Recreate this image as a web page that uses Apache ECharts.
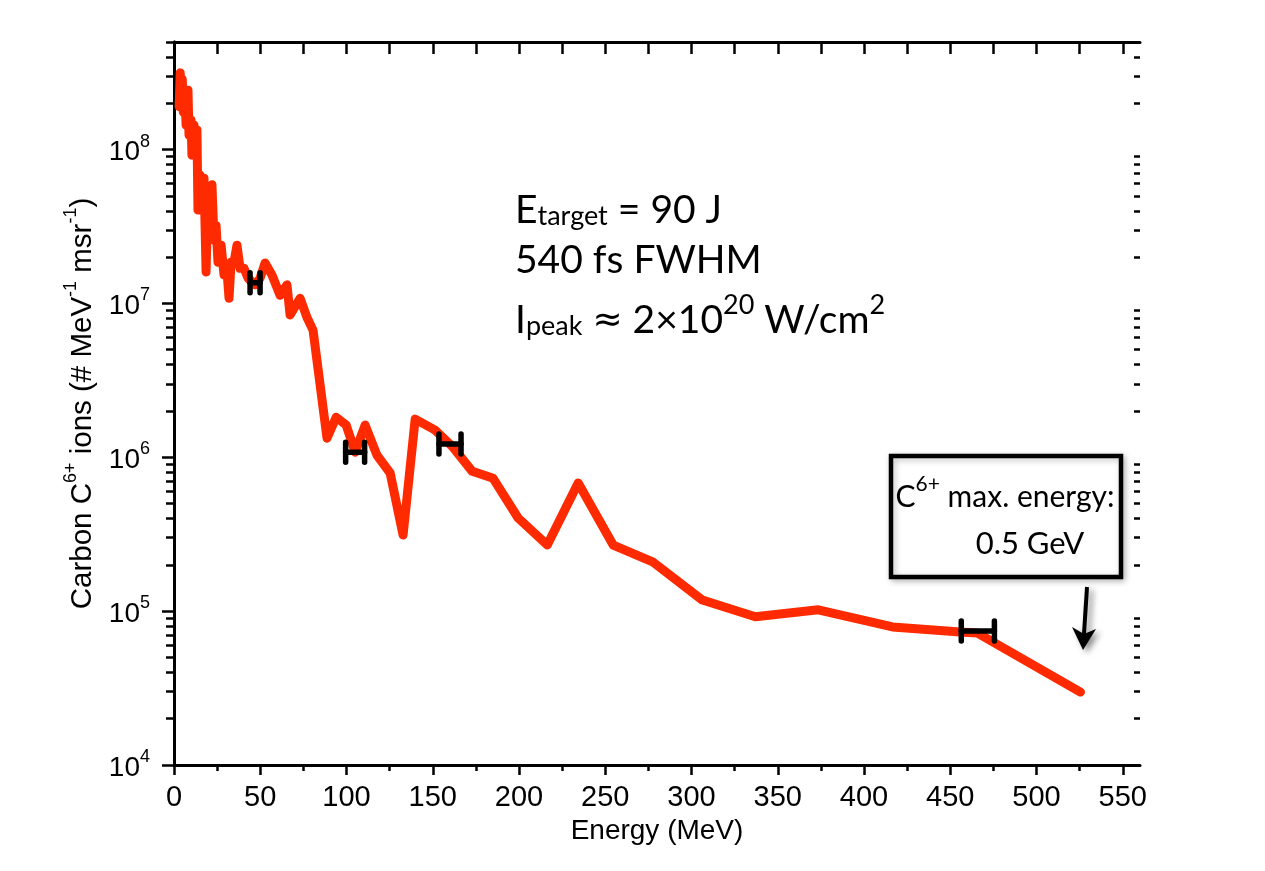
<!DOCTYPE html>
<html><head><meta charset="utf-8">
<script src="https://cdn.jsdelivr.net/npm/echarts@6/dist/echarts.min.js"></script>
<style>html,body{margin:0;padding:0;background:#fff}#c{width:1265px;height:871px}</style>
</head><body><div id="c"></div>
<script>
// ---- data ----
const energy = [3.0, 3.6, 4.2, 4.8, 5.4, 6.4, 7.0, 8.1, 8.7, 9.9, 10.4, 11.6, 12.8, 13.3, 13.9, 15.1, 16.2, 17.4, 18.6, 19.7, 20.9, 22.0, 23.2, 24.4, 25.5, 27.3, 29.0, 30.7, 31.9, 33.1, 34.8, 36.5, 38.3, 40.6, 42.9, 47.0, 49.9, 52.8, 56.8, 61.5, 65.5, 67.3, 73.1, 77.1, 80.6, 88.7, 94.0, 99.8, 105.0, 110.8, 117.7, 125.3, 132.8, 139.8, 151.4, 161.8, 172.9, 185.0, 199.5, 216.4, 234.3, 254.6, 277.8, 306.3, 337.0, 373.5, 416.5, 457.7, 465.8, 525.5];
const ions = [1.9e8, 3.15e8, 2.0e8, 2.85e8, 1.75e8, 2.26e8, 1.44e8, 2.43e8, 1.24e8, 1.55e8, 9.2e7, 1.44e8, 1.15e8, 1.34e8, 4.04e7, 6.8e7, 4.35e7, 6.5e7, 1.6e7, 5.4e7, 3.75e7, 5.9e7, 2.58e7, 3.2e7, 1.85e7, 2.39e7, 1.53e7, 1.64e7, 1.08e7, 1.85e7, 1.85e7, 2.39e7, 1.69e7, 1.69e7, 1.46e7, 1.32e7, 1.46e7, 1.83e7, 1.53e7, 1.13e7, 1.32e7, 8.4e6, 1.08e7, 8.1e6, 6.7e6, 1.33e6, 1.82e6, 1.62e6, 1.08e6, 1.62e6, 1.03e6, 7.9e5, 3.12e5, 1.77e6, 1.5e6, 1.16e6, 8.1e5, 7.3e5, 4.03e5, 2.69e5, 6.8e5, 2.69e5, 2.08e5, 1.18e5, 9.2e4, 1.02e5, 7.9e4, 7.3e4, 7.2e4, 2.98e4];
const errCenter = [47, 105, 160, 466];
const errHalfWidth = [2.9, 5.5, 6.4, 9.6];
const errValue = [1.36e7, 1.08e6, 1.22e6, 7.42e4];
const xMajorTicks = [0, 50, 100, 150, 200, 250, 300, 350, 400, 450, 500, 550];
const xMinorTicks = [25, 75, 125, 175, 225, 275, 325, 375, 425, 475, 525];
const yMajorTicks = [1e4, 1e5, 1e6, 1e7, 1e8];
const yMinorTicks = [];
[1e4, 1e5, 1e6, 1e7, 1e8].forEach(d => { for (let k = 2; k <= 9; k++) { if (k * d <= 5e8) yMinorTicks.push(k * d); } });
const xAllTicks = xMajorTicks.concat(xMinorTicks).sort((a, b) => a - b);

// ---- chart ----
const chart = echarts.init(document.getElementById('c'), null, {renderer: 'canvas'});
const AX = '#000';
const labelFont = 'Liberation Sans';
const narrowFont = "'Liberation Sans Narrow', 'Arial Narrow', 'Liberation Sans'";
const annFont = 'Lato';
const xBase = {type: 'value', min: 0, max: 560, splitLine: {show: false}, gridIndex: 0};
const yBase = {type: 'log', logBase: 10, min: 1e4, max: 5e8, splitLine: {show: false}, gridIndex: 0};

const option = {
  backgroundColor: '#fff',
  animation: false,
  grid: {left: 174, right: 125, top: 42, bottom: 106},
  xAxis: [
    Object.assign({}, xBase, {
      position: 'bottom',
      axisLine: {show: true, lineStyle: {color: AX, width: 3}},
      axisTick: {show: true, inside: false, length: 10, lineStyle: {color: AX, width: 2.5}, customValues: xMajorTicks},
      axisLabel: {show: true, margin: 18, color: '#000', fontSize: 29, fontFamily: narrowFont, customValues: xMajorTicks},
      name: 'Energy (MeV)', nameLocation: 'middle', nameGap: 49,
      nameTextStyle: {color: '#000', fontSize: 28, fontFamily: labelFont}
    }),
    Object.assign({}, xBase, {
      position: 'top',
      axisLine: {show: true, lineStyle: {color: AX, width: 3}},
      axisTick: {show: true, inside: true, length: 12, lineStyle: {color: AX, width: 2.5}, customValues: xAllTicks},
      axisLabel: {show: false}
    }),
    Object.assign({}, xBase, {
      position: 'bottom',
      axisLine: {show: false},
      axisTick: {show: true, inside: false, length: 6, lineStyle: {color: AX, width: 2.5}, customValues: xMinorTicks},
      axisLabel: {show: false}
    })
  ],
  yAxis: [
    Object.assign({}, yBase, {
      position: 'left',
      axisLine: {show: true, lineStyle: {color: AX, width: 3}},
      axisTick: {show: true, inside: false, length: 12, lineStyle: {color: AX, width: 2.5}, customValues: yMajorTicks},
      axisLabel: {
        show: true, margin: 24, color: '#000', fontFamily: labelFont, customValues: yMajorTicks,
        formatter: v => '{b|10}{sup|' + Math.round(Math.log10(v)) + '}',
        rich: {
          b: {fontSize: 28, lineHeight: 34, verticalAlign: 'bottom', fontFamily: labelFont, color: '#000'},
          sup: {fontSize: 18, lineHeight: 18, verticalAlign: 'top', fontFamily: labelFont, color: '#000'}
        }
      },
      name: '{b|Carbon C}{sup|6+}{b| ions (# MeV}{sup|-1}{b| msr}{sup|-1}{b|)}',
      nameLocation: 'middle', nameGap: 66,
      nameTextStyle: {
        color: '#000', fontFamily: labelFont, fontSize: 29,
        rich: {
          b: {fontSize: 29.5, lineHeight: 36, verticalAlign: 'bottom', fontFamily: labelFont, color: '#000'},
          sup: {fontSize: 18, lineHeight: 18, verticalAlign: 'top', fontFamily: labelFont, color: '#000'}
        }
      }
    }),
    Object.assign({}, yBase, {
      position: 'right',
      axisLine: {show: true, lineStyle: {color: AX, width: 3}},
      axisTick: {show: true, inside: true, length: 10, lineStyle: {color: AX, width: 2.5}, customValues: yMajorTicks},
      axisLabel: {show: false}
    }),
    Object.assign({}, yBase, {
      position: 'left',
      axisLine: {show: false},
      axisTick: {show: true, inside: false, length: 8, lineStyle: {color: AX, width: 2.5}, customValues: yMinorTicks},
      axisLabel: {show: false}
    }),
    Object.assign({}, yBase, {
      position: 'right',
      axisLine: {show: false},
      axisTick: {show: true, inside: true, length: 6, lineStyle: {color: AX, width: 2.5}, customValues: yMinorTicks},
      axisLabel: {show: false}
    })
  ],
  series: [
    {
      type: 'line', xAxisIndex: 0, yAxisIndex: 0,
      data: energy.map((e, i) => [e, ions[i]]),
      showSymbol: false, symbol: 'none', z: 3,
      lineStyle: {color: '#ff2a00', width: 9, join: 'round', cap: 'round'}
    },
    {
      type: 'custom', xAxisIndex: 0, yAxisIndex: 0, z: 5,
      data: errCenter.map((c, i) => [c, errHalfWidth[i], errValue[i]]),
      encode: {x: 0, y: 2},
      renderItem: function (params, api) {
        const c = api.value(0), h = api.value(1), v = api.value(2);
        const p1 = api.coord([c - h, v]);
        const p2 = api.coord([c + h, v]);
        const cap = 10;
        const st = {stroke: '#000', lineWidth: 5.5, lineCap: 'round'};
        return {type: 'group', children: [
          {type: 'line', shape: {x1: p1[0], y1: p1[1], x2: p2[0], y2: p2[1]}, style: st},
          {type: 'line', shape: {x1: p1[0], y1: p1[1] - cap, x2: p1[0], y2: p1[1] + cap}, style: st},
          {type: 'line', shape: {x1: p2[0], y1: p2[1] - cap, x2: p2[0], y2: p2[1] + cap}, style: st}
        ]};
      }
    }
  ],
  graphic: [
    {type: 'text', left: 515, top: 191, z: 10, style: {
      text: '{b|E}{sub|target}{b| = 90 J}',
      rich: {
        b: {fontSize: 39, lineHeight: 48, verticalAlign: 'bottom', fontFamily: annFont, fill: '#000'},
        sub: {fontSize: 27, lineHeight: 27, verticalAlign: 'bottom', fontFamily: annFont, fill: '#000'}
      }}},
    {type: 'text', left: 515, top: 241, z: 10, style: {
      text: '{b|540 fs FWHM}',
      rich: {b: {fontSize: 39, lineHeight: 48, verticalAlign: 'bottom', fontFamily: annFont, fill: '#000'}}}},
    {type: 'text', left: 515, top: 292, z: 10, style: {
      text: '{b|I}{sub|peak}{b| }{ap|\u2248}{b| 2\u00d710}{sup|20}{b| W/cm}{sup|2}',
      rich: {
        b: {fontSize: 39, lineHeight: 48, verticalAlign: 'bottom', fontFamily: annFont, fill: '#000'},
        ap: {fontSize: 36, lineHeight: 48, verticalAlign: 'bottom', fontFamily: 'DejaVu Sans', fill: '#000'},
        sub: {fontSize: 27, lineHeight: 27, verticalAlign: 'bottom', fontFamily: annFont, fill: '#000'},
        sup: {fontSize: 27, lineHeight: 48, verticalAlign: 'top', fontFamily: annFont, fill: '#000'}
      }}},
    {type: 'rect', z: 10, shape: {x: 891, y: 456, width: 230, height: 121},
      style: {fill: '#fff', stroke: '#000', lineWidth: 4.5, shadowBlur: 6, shadowColor: 'rgba(0,0,0,0.25)', shadowOffsetX: 2, shadowOffsetY: 2}},
    {type: 'text', z: 11, x: 1005, y: 474, style: {
      text: '{b|C}{sup|6+}{b| max. energy:}', align: 'center',
      rich: {
        b: {fontSize: 30, lineHeight: 38, verticalAlign: 'bottom', fontFamily: annFont, fill: '#000'},
        sup: {fontSize: 21, lineHeight: 34, verticalAlign: 'top', fontFamily: annFont, fill: '#000'}
      }}},
    {type: 'text', z: 11, x: 1030, y: 521, style: {
      text: '{b|0.5 GeV}', align: 'center',
      rich: {b: {fontSize: 31, lineHeight: 38, verticalAlign: 'bottom', fontFamily: annFont, fill: '#000'}}}},
    {type: 'group', z: 11, children: [
      {type: 'line', shape: {x1: 1087, y1: 587, x2: 1084, y2: 634},
        style: {stroke: '#000', lineWidth: 4, shadowBlur: 6, shadowColor: 'rgba(0,0,0,0.45)', shadowOffsetX: 4, shadowOffsetY: 3}},
      {type: 'polygon', shape: {points: [[1072, 627], [1084, 634], [1096, 629], [1083, 650]]},
        style: {fill: '#000', shadowBlur: 6, shadowColor: 'rgba(0,0,0,0.45)', shadowOffsetX: 4, shadowOffsetY: 3}}
    ]}
  ]
};
chart.setOption(option);
</script>
</body></html>
